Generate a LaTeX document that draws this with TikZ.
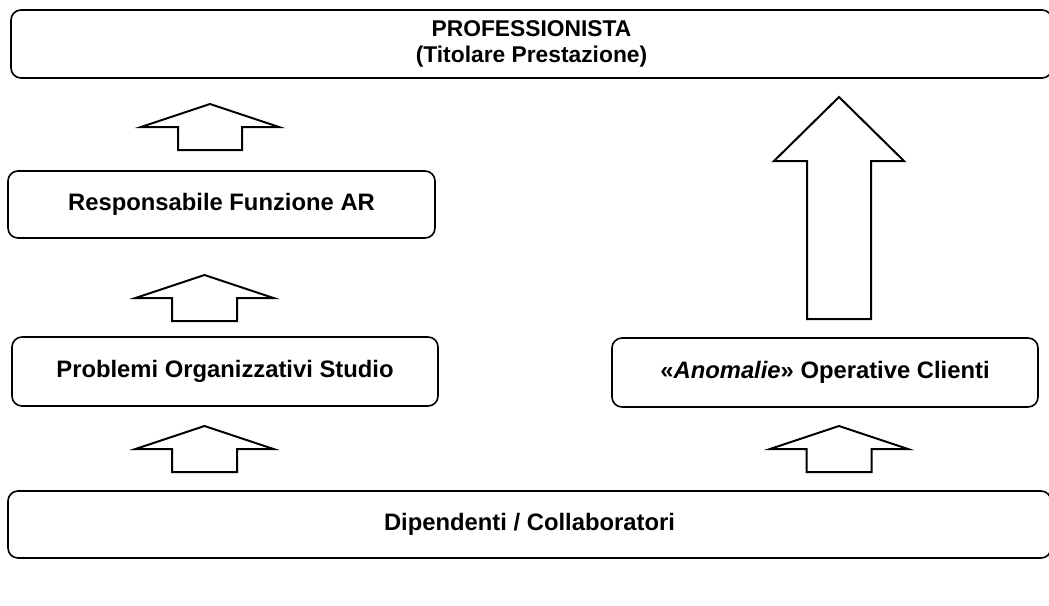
\documentclass[tikz,border=0pt]{standalone}
\usepackage{fontspec}
\setmainfont{Liberation Sans}
\begin{document}
\begin{tikzpicture}[x=1pt,y=-1pt,
  box/.style={draw=black,line width=1.6pt,rounded corners=10pt,fill=white,
    inner sep=0pt,align=center,font=\bfseries\fontsize{23.8}{26}\selectfont},
  titlebox/.style={box,font=\bfseries\fontsize{22.8}{25.5}\selectfont},
  blockarrow/.style={draw=black,line width=2pt,fill=white,line join=miter}]
\useasboundingbox (0,0) rectangle (1049,605);
\clip (0,0) rectangle (1049,605);
\newcommand{\blockup}[6]{% cx, tip y, wing y, bottom y, half head, half shaft
  \draw[blockarrow] (#1,#2) -- (#1+#5,#3) -- (#1+#6,#3) -- (#1+#6,#4)
    -- (#1-#6,#4) -- (#1-#6,#3) -- (#1-#5,#3) -- cycle;}
% boxes
\node[titlebox,minimum width=1041pt,minimum height=68pt] (prof) at (531.5,44)
  {PROFESSIONISTA\\(Titolare Prestazione)};
\node[box,minimum width=427pt,minimum height=67pt] (resp) at (221.5,204.5)
  {Responsabile Funzione AR};
\node[box,minimum width=426pt,minimum height=69pt] (prob) at (225,371.5)
  {Problemi Organizzativi Studio};
\node[box,minimum width=426pt,minimum height=69pt] (anom) at (825,372.5)
  {«\textit{Anomalie}» Operative Clienti};
\node[box,minimum width=1043pt,minimum height=67pt] (dip) at (529.5,524.5)
  {Dipendenti / Collaboratori};
% block arrows
\blockup{210}{104}{127}{150}{69}{32}
\blockup{204.5}{275}{298}{321}{69}{32.5}
\blockup{204.5}{426}{449}{472}{69}{32.5}
\blockup{839}{426}{449}{472}{69}{32.5}
\blockup{839}{97}{161}{319}{65}{32}
\end{tikzpicture}
\end{document}
